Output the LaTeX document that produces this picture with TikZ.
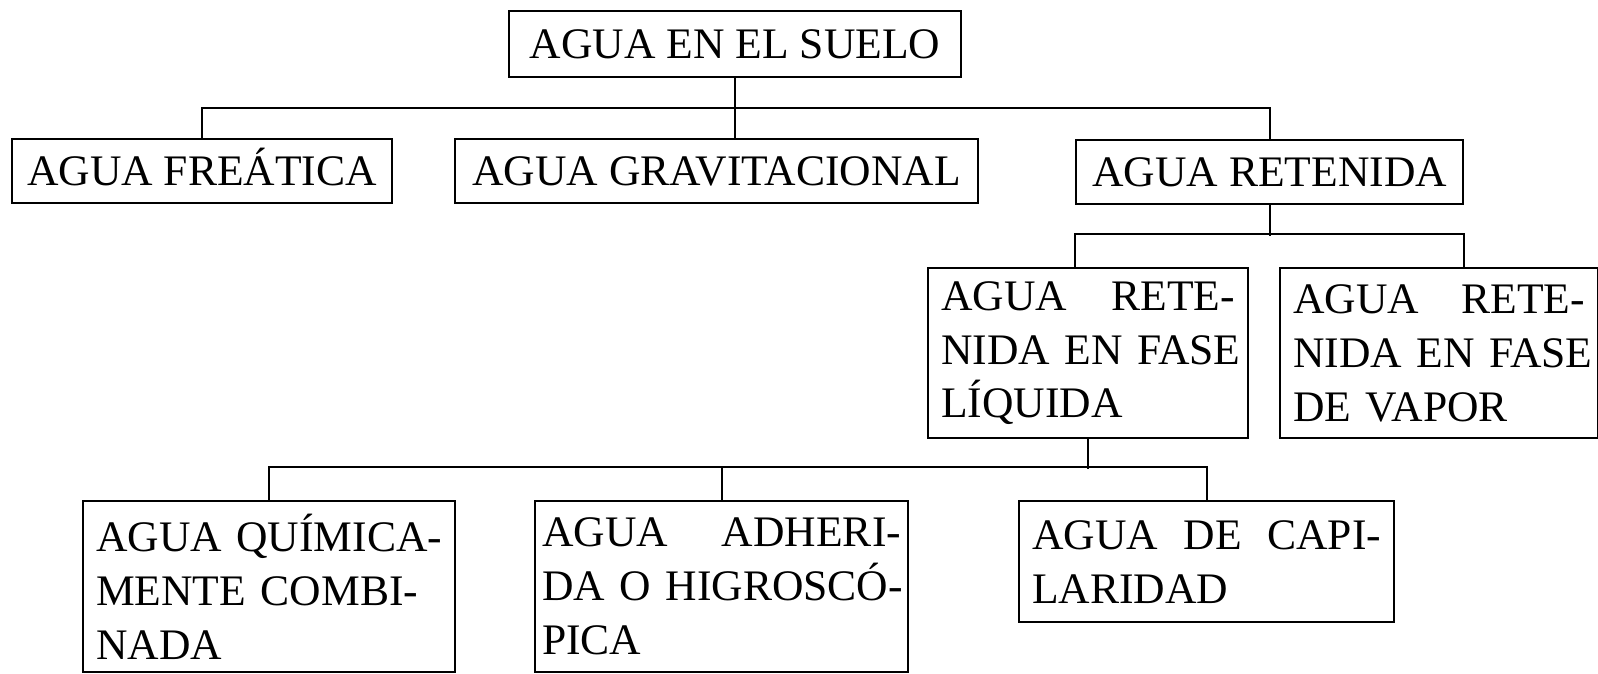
\documentclass[tikz,border=0pt]{standalone}
\usepackage{fontspec}
\setmainfont{Liberation Serif}
\usepackage{tikz}
\tikzset{
  caja/.style={draw, anchor=north west, inner xsep=2.6mm, inner ysep=0pt},
  cajauna/.style={caja, text height=16.4pt, text depth=0pt},
  cajatexto/.style={caja, align=left, text width=#1},
}

\begin{document}
\begin{tikzpicture}[x=0.2mm, y=-0.2mm, line width=1.3pt,
                    font=\fontsize{24.8}{30.7}\selectfont]
  \useasboundingbox (0,0) rectangle (1598,673);
  % first and second level
  \node[cajauna, minimum width=90.4mm, minimum height=13.2mm] (suelo) at (508,10) {AGUA EN EL SUELO};
  \node[cajauna, minimum width=76mm, minimum height=12.8mm] (freatica) at (11,138) {AGUA FREÁTICA};
  \node[cajauna, minimum width=104.6mm, minimum height=12.8mm] (grav) at (454,138) {AGUA GRAVITACIONAL};
  \node[cajauna, minimum width=77.4mm, minimum height=12.8mm] (retenida) at (1075,139) {AGUA RETENIDA};
  % retained water
  \node[cajatexto=58.8mm, minimum height=34mm] (liquida) at (927,267)
       {AGUA\hfill RETE-\\\mbox{NIDA EN FASE}\\LÍQUIDA};
  \node[cajatexto=58.4mm, minimum height=34mm] (vapor) at (1279,267)
       {AGUA\hfill RETE-\\\mbox{NIDA EN FASE}\\DE VAPOR};
  % liquid phase
  \node[cajatexto=69.2mm, minimum height=34.2mm] (quimica) at (82,500)
       {\mbox{AGUA QUÍMICA-}\\\mbox{MENTE COMBI-}\\NADA};
  \node[cajatexto=71.8mm, inner xsep=1.4mm, minimum height=34.2mm] (adherida) at (534,500)
       {AGUA\hfill ADHERI-\\\mbox{DA O HIGROSCÓ-}\\PICA};
  \node[cajatexto=69.8mm, minimum height=24.2mm] (capilar) at (1018,500)
       {AGUA\hfill DE\hfill CAPI-\\LARIDAD};

  \draw (suelo.south) -- (suelo.south |- grav.north);
  \draw (freatica.north) -- ++(0,-30) -| (retenida.north);
  \draw (retenida.south) -- ++(0,31);
  \draw (retenida.south west |- liquida.north) -- ++(0,-33) -| (retenida.south east |- vapor.north);
  \draw (liquida.south) -- ++(0,30);
  \draw (quimica.north) -- ++(0,-33) -| (capilar.north);
  \draw (adherida.north) -- ++(0,-33);
\end{tikzpicture}
\end{document}
